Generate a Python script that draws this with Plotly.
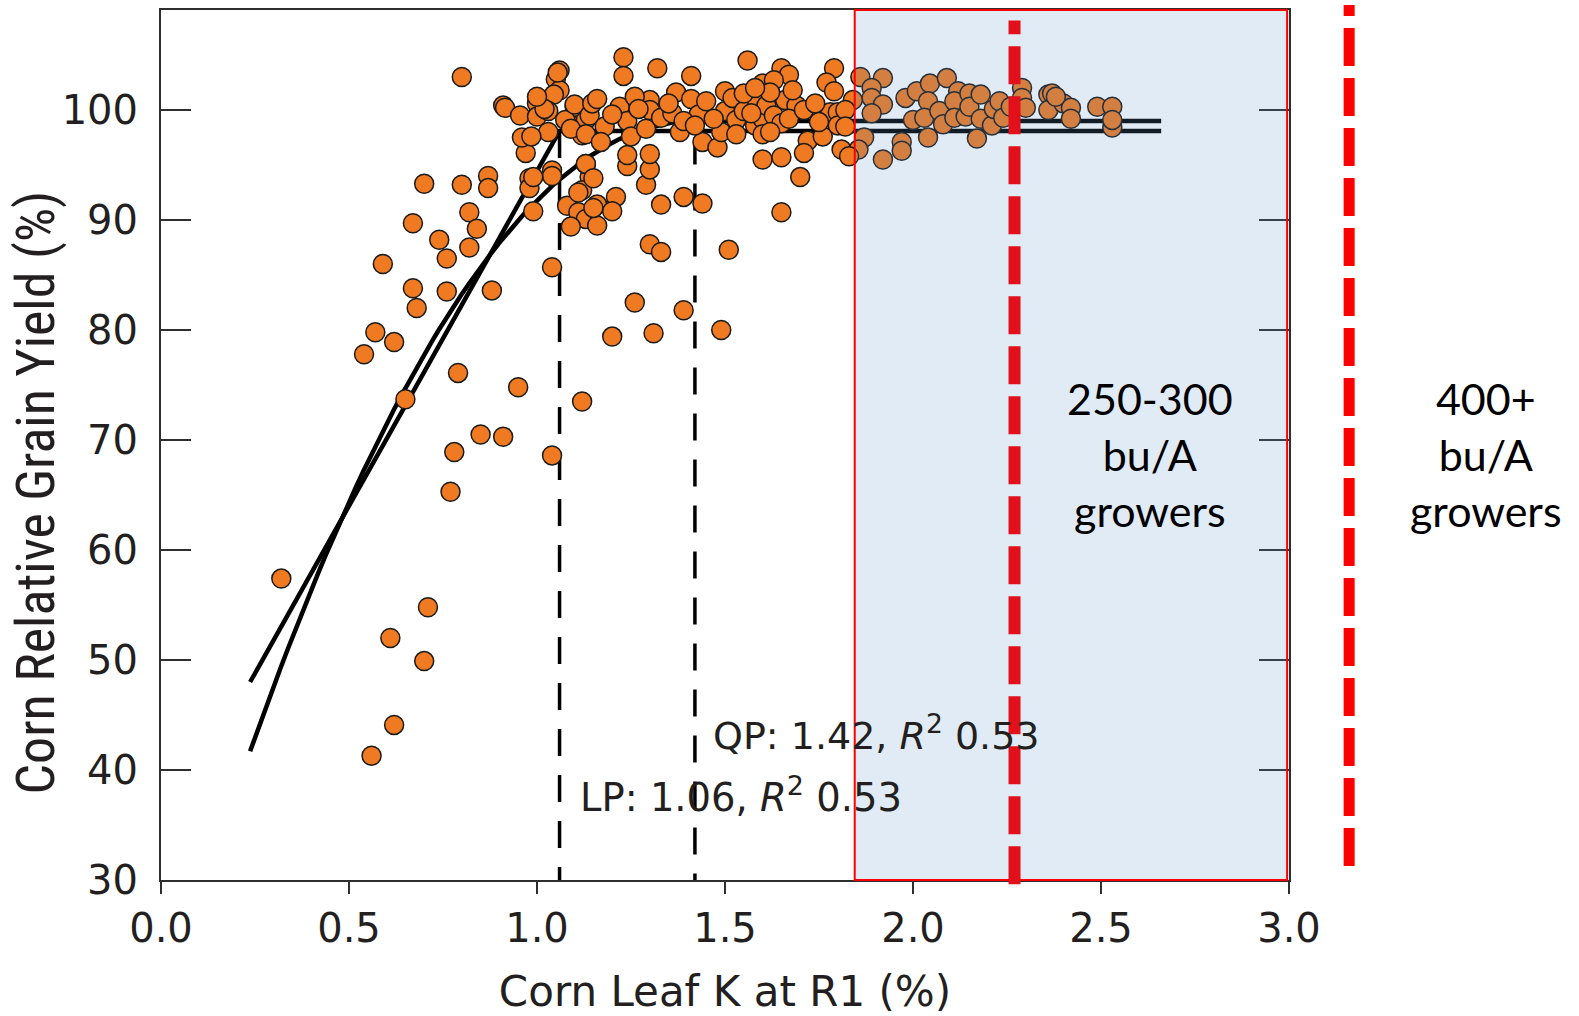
import numpy as np
import plotly.graph_objects as go

# Leaf K concentration at R1 (%) and relative grain yield (%) for each site-year
leaf_k = [
    0.32, 0.56, 0.62, 0.61, 0.71, 0.70, 0.54, 0.57, 0.62, 0.59, 0.65, 0.67, 0.68, 0.67,
    0.70, 0.74, 0.76, 0.76, 0.79, 0.78, 0.77, 0.85, 0.91, 0.95, 1.04, 1.12, 0.88, 0.80,
    0.80, 0.82, 0.82, 0.84, 0.87, 0.87, 0.91, 0.98, 0.98, 0.99, 1.04, 1.04, 1.04,
    1.20, 1.31, 1.26, 1.39, 1.49, 1.30, 1.33, 1.51, 1.33, 1.39, 1.44, 1.29, 1.30, 1.24,
    1.24, 1.30, 1.60, 1.13, 1.14, 1.12, 1.08, 1.11, 1.13, 1.09, 1.16, 1.16, 1.21,
    1.20, 0.99, 1.15, 1.11, 1.13, 1.15, 0.97,
    1.06, 1.05, 1.06, 1.045, 1.00, 0.915, 0.955, 1.00, 1.03, 1.08, 1.10, 1.14, 1.13, 1.03,
    1.12, 0.96, 0.985, 1.02, 1.075, 1.10, 1.14, 1.147, 1.09, 1.13, 1.18, 1.22, 1.24, 1.17,
    1.25, 1.29, 1.23, 1.23, 1.32, 1.41, 1.055, 1.00,
    1.30, 1.30, 1.33, 1.36, 1.37, 1.41, 1.38, 1.43, 1.44, 1.48, 1.49, 1.50, 1.50, 1.52,
    1.53, 1.55, 1.58, 1.585, 1.60, 1.60, 1.61, 1.63, 1.65, 1.66, 1.65, 1.69, 1.67, 1.71,
    1.72, 1.71, 1.76, 1.78, 1.80, 1.80, 1.81, 1.70, 1.65, 1.56, 1.65, 1.67, 1.79, 1.77,
    1.79, 1.60, 1.63,
    1.26, 1.35, 1.39, 1.45, 1.47, 1.55, 1.57, 1.62, 1.68, 1.74, 1.75, 1.20, 1.16, 1.27,
    1.42, 1.53, 1.62, 1.58,
    1.86, 1.92, 1.89, 1.89, 1.92, 1.89, 1.84, 1.82, 1.82, 1.87, 1.855, 1.83, 1.92, 1.97,
    1.97, 1.98, 2.01, 2.045, 2.09, 2.00, 2.04, 2.03, 2.04, 2.07, 2.08, 2.12, 2.11, 2.11,
    2.14, 2.15, 2.15, 2.17, 2.18, 2.18, 2.21, 2.215, 2.23, 2.24, 2.26, 2.29, 2.29, 2.30,
    2.36, 2.37, 2.36, 2.40, 2.42, 2.42, 2.49, 2.53, 2.53, 2.53, 2.38,
]
rel_yield = [
    57.4, 41.3, 44.1, 52.0, 54.8, 49.9, 77.8, 79.8, 78.9, 86.0, 73.7, 83.8, 82.0, 89.7,
    93.3, 88.2, 86.5, 83.5, 76.1, 68.9, 65.3, 70.5, 70.3, 74.8, 68.6, 73.5, 83.6, 103.0,
    93.2, 90.7, 87.5, 89.2, 94.0, 92.9, 100.4, 93.8, 92.9, 90.8, 85.7, 94.5, 94.0,
    79.4, 79.7, 82.5, 81.8, 80.0, 87.8, 87.1, 87.3, 91.4, 92.1, 91.5, 93.2, 94.6, 94.9,
    95.9, 96.0, 95.5, 95.1, 93.9, 92.7, 91.3, 90.7, 90.1, 89.4, 89.5, 91.4, 92.1,
    90.8, 93.9, 91.1, 92.5, 95.1, 93.8, 96.1,
    103.6, 102.8, 101.8, 101.4, 100.6, 100.2, 99.5, 99.4, 99.9, 99.0, 100.3, 100.3, 99.1, 98.0,
    97.7, 97.5, 97.6, 100.1, 99.1, 100.5, 99.5, 100.6, 98.3, 97.8, 98.5, 100.3, 99.0, 97.1,
    97.6, 98.3, 104.8, 103.1, 103.8, 103.1, 103.4, 101.2,
    100.9, 100.0, 99.3, 99.7, 101.6, 101.0, 98.0, 99.6, 97.1, 96.6, 98.0, 101.7, 99.9, 101.1,
    99.1, 99.9, 98.6, 100.9, 99.2, 97.8, 100.4, 99.5, 98.8, 100.9, 95.7, 100.4, 99.2, 100.0,
    97.2, 96.1, 97.6, 99.8, 99.8, 98.6, 96.4, 93.9, 90.7, 104.5, 103.8, 103.2, 103.8, 102.5,
    101.7, 102.4, 102.7,
    101.2, 100.6, 99.0, 100.8, 99.2, 101.5, 99.7, 101.6, 101.8, 100.6, 98.9, 99.6, 101.0, 100.1,
    98.6, 97.8, 98.0, 102.0,
    103.0, 102.9, 102.0, 101.1, 100.5, 99.7, 100.9, 100.0, 98.5, 97.5, 96.4, 95.8, 95.5, 97.1,
    96.3, 101.1, 101.7, 102.4, 102.9, 99.1, 100.8, 99.3, 97.5, 99.9, 98.7, 101.7, 100.8, 99.3,
    99.4, 101.5, 100.3, 97.4, 101.4, 99.2, 98.6, 100.1, 100.8, 99.3, 100.3, 102.0, 101.1, 100.2,
    101.4, 101.5, 100.0, 100.6, 100.2, 99.2, 100.3, 100.3, 98.4, 99.1, 101.2,
]

# Fitted models: linear-plateau (LP) and quadratic-plateau (QP)
fit_start_k = 0.237
fit_end_k = 2.66
lp_start_yield = 48.0
lp_join = 1.06
lp_plateau = 98.1
qp_start_yield = 41.7
qp_join = 1.42
qp_plateau = 99.0
r_squared = 0.53

# Leaf K ranges for grower groups
range_250_300 = [1.845, 2.995]
target_250_300 = 2.27
target_400 = 3.16

x_range = [0.0, 3.0]
y_range = [30.0, 109.09]
x_ticks = [0.0, 0.5, 1.0, 1.5, 2.0, 2.5, 3.0]
y_ticks = [30, 40, 50, 60, 70, 80, 90, 100]

text_color = "#231f20"
axis_color = "#2e2e2e"
base_font = "DejaVu Sans, Noto Sans, sans-serif"

fig = go.Figure()

# LP model: straight rise to the join point, then flat
lp_x = [fit_start_k, lp_join, fit_end_k]
lp_y = [lp_start_yield, lp_plateau, lp_plateau]

# QP model: parabola with its vertex at the join point, then flat
curv = (qp_plateau - qp_start_yield) / (qp_join - fit_start_k) ** 2
qp_x = np.concatenate([np.linspace(fit_start_k, qp_join, 60), [fit_end_k]])
qp_y = np.where(qp_x < qp_join, qp_plateau - curv * (qp_join - qp_x) ** 2, qp_plateau)

for xs, ys in [(lp_x, lp_y), (qp_x, qp_y)]:
    fig.add_trace(go.Scatter(
        x=xs, y=ys, mode="lines",
        line=dict(color="black", width=4.5),
        hoverinfo="skip", showlegend=False,
    ))

# Critical leaf K levels (dashed verticals)
for k, top in [(lp_join, lp_plateau), (qp_join, qp_plateau - 1.5)]:
    fig.add_trace(go.Scatter(
        x=[k, k], y=[top, y_range[0]], mode="lines",
        line=dict(color="black", width=3.5, dash="27px,19px"),
        hoverinfo="skip", showlegend=False,
    ))

fig.add_trace(go.Scatter(
    x=leaf_k, y=rel_yield, mode="markers",
    marker=dict(size=19, color="#ef7a21", line=dict(color="#1a1a1a", width=1.5)),
    showlegend=False,
))

# Shaded leaf K range for 250-300 bu/A growers
fig.add_shape(
    type="rect", xref="x", yref="paper",
    x0=range_250_300[0], x1=range_250_300[1], y0=0, y1=1,
    fillcolor="rgba(91,150,205,0.19)",
    line=dict(color="#ff0000", width=2),
    layer="above",
)
fig.add_shape(
    type="line", xref="x", yref="paper",
    x0=target_250_300, x1=target_250_300, y0=-0.005, y1=0.988,
    line=dict(color="#e2101b", width=12, dash="38px,12px"),
    layer="above",
)
# 400+ bu/A level sits just beyond the x-axis range
x400_paper = (target_400 - x_range[0]) / (x_range[1] - x_range[0])
fig.add_shape(
    type="line", xref="paper", yref="paper",
    x0=x400_paper, x1=x400_paper, y0=0.016, y1=1.0057,
    line=dict(color="#ff0000", width=11, dash="38px,12px"),
    layer="above",
)

note_font = dict(family=base_font, size=38, color=text_color)
fig.add_annotation(
    x=qp_join, y=43.4, xref="x", yref="y",
    text=f"QP: {qp_join:.2f}, <i>R</i><sup>2</sup> {r_squared:.2f}",
    showarrow=False, xanchor="left", yanchor="middle", xshift=16,
    font=note_font,
)
fig.add_annotation(
    x=lp_join, y=37.7, xref="x", yref="y",
    text=f"LP: {lp_join:.2f}, <i>R</i><sup>2</sup> {r_squared:.2f}",
    showarrow=False, xanchor="left", yanchor="middle", xshift=18,
    font=dict(family=base_font, size=38.5, color=text_color),
)

group_font = dict(family="Lato, Open Sans, sans-serif", size=43, color="black")
fig.add_annotation(
    x=2.63, y=68.7, xref="x", yref="y",
    text="250-300<br>bu/A<br>growers", showarrow=False,
    xanchor="center", yanchor="middle", align="center", font=group_font,
)
fig.add_annotation(
    x=1.1747, y=68.7, xref="paper", yref="y",
    text="400+<br>bu/A<br>growers", showarrow=False,
    xanchor="center", yanchor="middle", align="center", font=group_font,
)

# Y-axis title, set slightly below the plot's centre line
fig.add_annotation(
    x=-0.111, y=65.2, xref="paper", yref="y",
    text="Corn Relative Grain Yield (%)", textangle=-90, showarrow=False,
    xanchor="center", yanchor="middle",
    font=dict(family="Roboto Condensed, Roboto, sans-serif", size=54, color=text_color),
)

fig.update_xaxes(
    range=x_range, tickvals=x_ticks, ticktext=[f"{v:.1f}" for v in x_ticks],
    showgrid=False, zeroline=False,
    showline=True, linecolor=axis_color, linewidth=2, mirror=True,
    ticks="outside", ticklen=12, tickwidth=2, tickcolor=axis_color,
    tickfont=dict(family=base_font, size=40, color=text_color),
    title=dict(text="Corn Leaf K at R1 (%)", standoff=28,
               font=dict(family=base_font, size=42, color=text_color)),
)
fig.update_yaxes(
    range=y_range, tickvals=y_ticks,
    showgrid=False, zeroline=False,
    showline=True, linecolor=axis_color, linewidth=2, mirror="ticks",
    ticks="inside", ticklen=30, tickwidth=2, tickcolor=axis_color,
    ticklabelstandoff=13,
    tickfont=dict(family=base_font, size=40, color=text_color),
)

fig.update_layout(
    width=1579, height=1016,
    margin=dict(l=161, r=290, t=10, b=136, autoexpand=False),
    plot_bgcolor="white", paper_bgcolor="white",
)

fig.write_html("out.html")
